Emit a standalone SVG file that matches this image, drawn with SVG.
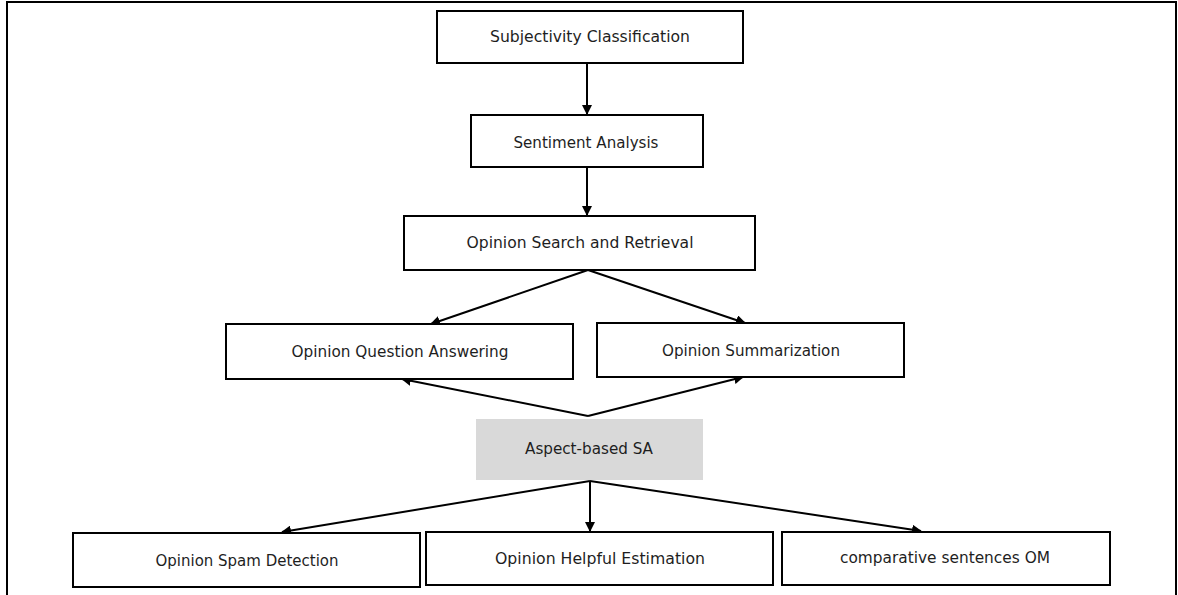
<svg xmlns="http://www.w3.org/2000/svg" width="1178" height="595" viewBox="0 0 1178 595">
  <style>
    .box { fill: #ffffff; stroke: #000000; stroke-width: 2; }
    .shaded { fill: #d9d9d9; stroke: none; }
    .label { font-family: "DejaVu Sans", "Liberation Sans", sans-serif; font-size: 15.5px; fill: #1e1e1e; text-anchor: middle; }
    .edge { fill: none; stroke: #000000; stroke-width: 2; marker-end: url(#arrow); }
    .frame { fill: none; stroke: #000000; stroke-width: 2; }
  </style>
  <defs>
    <marker id="arrow" viewBox="0 0 10 10" refX="9" refY="5" markerWidth="5" markerHeight="5" markerUnits="strokeWidth" orient="auto">
      <path d="M0,0 L10,5 L0,10 z" fill="#000000"/>
    </marker>
  </defs>

  <rect width="1178" height="595" fill="#ffffff"/>
  <!-- outer frame, open at the bottom -->
  <path class="frame" d="M7,595 V2 H1176 V595"/>

  <g id="connectors">
    <line class="edge" x1="587" y1="63" x2="587" y2="114"/>
    <line class="edge" x1="587" y1="167" x2="587" y2="215"/>
    <line class="edge" x1="588" y1="270" x2="431" y2="324"/>
    <line class="edge" x1="588" y1="270" x2="745" y2="323"/>
    <line class="edge" x1="588" y1="416" x2="402" y2="379"/>
    <line class="edge" x1="588" y1="416" x2="743" y2="377"/>
    <line class="edge" x1="590" y1="481" x2="282" y2="532"/>
    <line class="edge" x1="590" y1="481" x2="590" y2="531"/>
    <line class="edge" x1="590" y1="481" x2="921" y2="531"/>
  </g>

  <g id="subjectivity">
    <rect class="box" x="437" y="11" width="306" height="52"/>
    <text class="label" x="590" y="42" textLength="200" lengthAdjust="spacingAndGlyphs">Subjectivity Classification</text>
  </g>
  <g id="sentiment">
    <rect class="box" x="471" y="115" width="232" height="52"/>
    <text class="label" x="586" y="148" textLength="145" lengthAdjust="spacingAndGlyphs">Sentiment Analysis</text>
  </g>
  <g id="search">
    <rect class="box" x="404" y="216" width="351" height="54"/>
    <text class="label" x="580" y="248" textLength="227" lengthAdjust="spacingAndGlyphs">Opinion Search and Retrieval</text>
  </g>
  <g id="question">
    <rect class="box" x="226" y="324" width="347" height="55"/>
    <text class="label" x="400" y="357" textLength="217" lengthAdjust="spacingAndGlyphs">Opinion Question Answering</text>
  </g>
  <g id="summarization">
    <rect class="box" x="597" y="323" width="307" height="54"/>
    <text class="label" x="751" y="356" textLength="178" lengthAdjust="spacingAndGlyphs">Opinion Summarization</text>
  </g>
  <g id="aspect">
    <rect class="shaded" x="476" y="419" width="227" height="61"/>
    <text class="label" x="589" y="454" textLength="128" lengthAdjust="spacingAndGlyphs">Aspect-based SA</text>
  </g>
  <g id="spam">
    <rect class="box" x="73" y="533" width="347" height="54"/>
    <text class="label" x="247" y="566" textLength="183" lengthAdjust="spacingAndGlyphs">Opinion Spam Detection</text>
  </g>
  <g id="helpful">
    <rect class="box" x="426" y="532" width="347" height="53"/>
    <text class="label" x="600" y="564" textLength="210" lengthAdjust="spacingAndGlyphs">Opinion Helpful Estimation</text>
  </g>
  <g id="comparative">
    <rect class="box" x="782" y="532" width="328" height="53"/>
    <text class="label" x="945" y="563" textLength="210" lengthAdjust="spacingAndGlyphs">comparative sentences OM</text>
  </g>
</svg>
